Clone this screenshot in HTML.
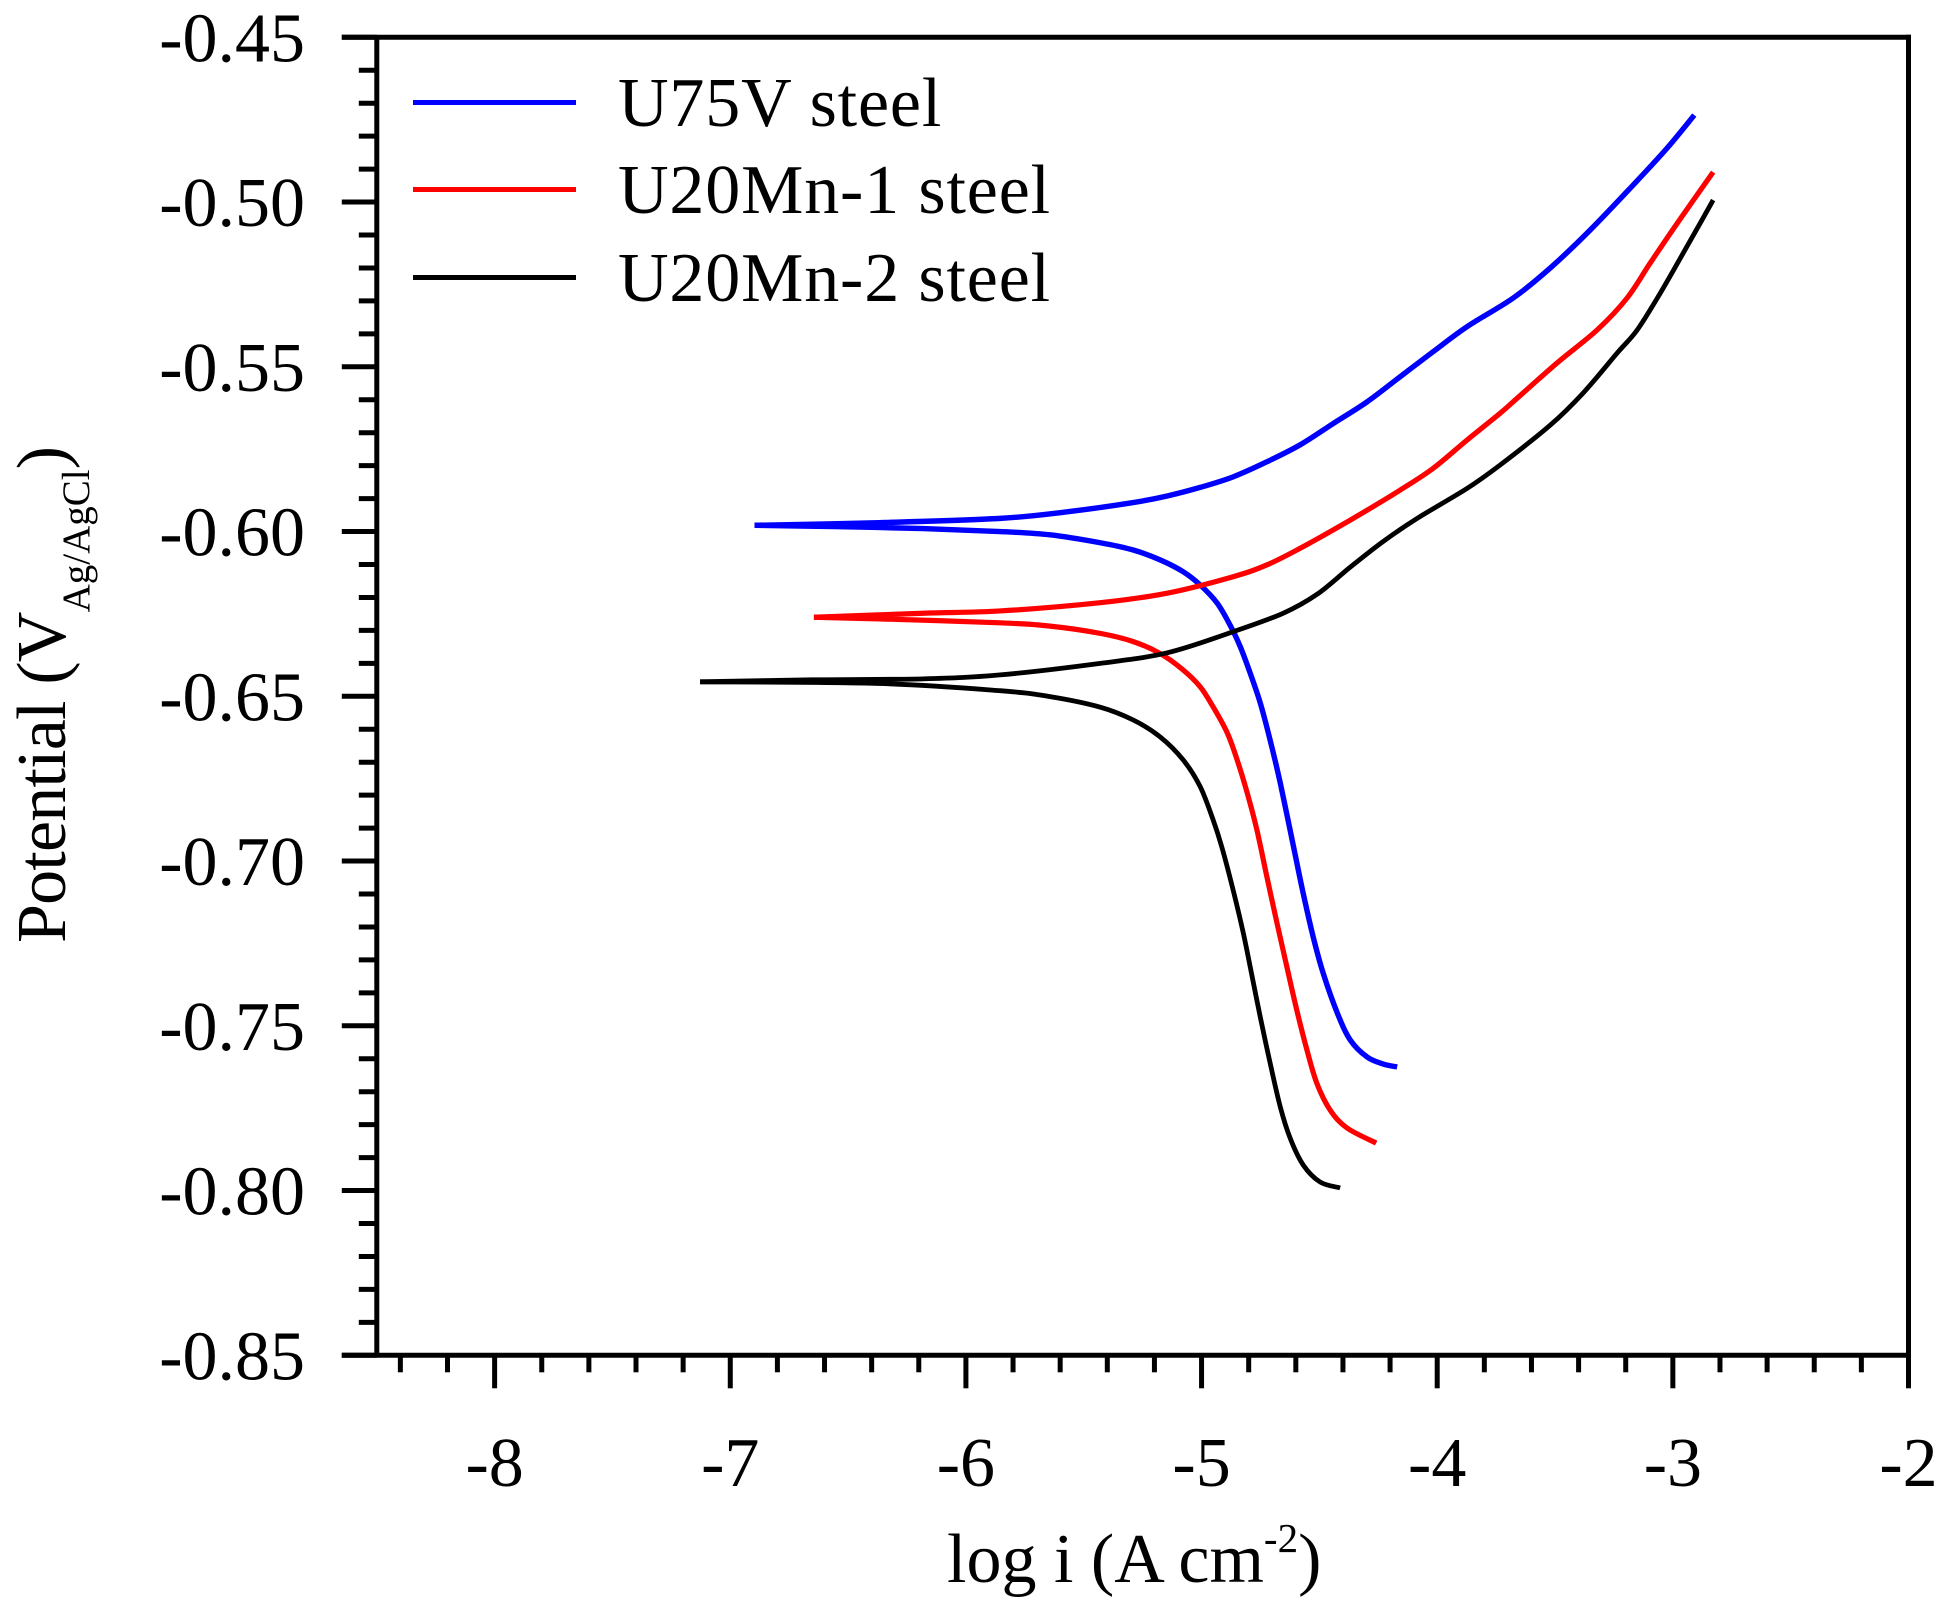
<!DOCTYPE html>
<html>
<head>
<meta charset="utf-8">
<title>Potentiodynamic polarization curves</title>
<style>
html,body{margin:0;padding:0;background:#fff;}
svg{display:block;}
text{font-family:"Liberation Serif",serif;fill:#000;}
</style>
</head>
<body>
<svg id="chart" xmlns="http://www.w3.org/2000/svg" width="1958" height="1608" viewBox="0 0 1958 1608">
<rect x="0" y="0" width="1958" height="1608" fill="#fff"/>
<g id="curves"></g>
<g id="axes"></g>
<g>
<line x1="413" x2="576" y1="102.5" y2="102.5" stroke="#0000ff" stroke-width="5"/>
<text x="618" y="126" font-size="70" letter-spacing="0.85">U75V steel</text>
<line x1="413" x2="576" y1="189.5" y2="189.5" stroke="#ff0000" stroke-width="5"/>
<text x="618" y="213" font-size="70" letter-spacing="0.85">U20Mn-1 steel</text>
<line x1="413" x2="576" y1="277.5" y2="277.5" stroke="#000000" stroke-width="5"/>
<text x="618" y="301" font-size="70" letter-spacing="0.85">U20Mn-2 steel</text>
</g>
<text x="947" y="1582" font-size="70">log i (A cm<tspan font-size="41" dy="-30">-2</tspan><tspan dy="30">)</tspan></text>
<text transform="translate(65,943) rotate(-90)" x="0" y="0" font-size="70" letter-spacing="-0.8">Potential (V<tspan font-size="39" dy="24" letter-spacing="0">Ag/AgCl</tspan><tspan dy="-24">)</tspan></text>
</svg>
<script>
var xTickValues = [-8, -7, -6, -5, -4, -3, -2];
var xTickLabels = ["-8", "-7", "-6", "-5", "-4", "-3", "-2"];
var yTickValues = [-0.45, -0.50, -0.55, -0.60, -0.65, -0.70, -0.75, -0.80, -0.85];
var yTickLabels = ["-0.45", "-0.50", "-0.55", "-0.60", "-0.65", "-0.70", "-0.75", "-0.80", "-0.85"];

var blueAnodicLogI = [-6.897,-6.370,-5.855,-5.570,-5.290,-5.146,-5.006,-4.866,-4.722,-4.582,-4.441,-4.297,-4.157,-4.017,-3.873,-3.677,-3.520,-3.351,-3.168,-3.024,-2.909];
var blueAnodicE = [-0.5981,-0.5973,-0.5960,-0.5940,-0.5912,-0.5892,-0.5866,-0.5834,-0.5788,-0.5737,-0.5672,-0.5606,-0.5530,-0.5454,-0.5378,-0.5291,-0.5200,-0.5085,-0.4948,-0.4836,-0.4736];
var blueCathodicLogI = [-6.897,-6.559,-6.182,-5.855,-5.643,-5.430,-5.290,-5.176,-5.078,-5.006,-4.934,-4.879,-4.836,-4.794,-4.751,-4.709,-4.666,-4.607,-4.569,-4.526,-4.484,-4.424,-4.369,-4.297,-4.229,-4.170];
var blueCathodicE = [-0.5981,-0.5985,-0.5991,-0.6000,-0.6010,-0.6034,-0.6056,-0.6086,-0.6122,-0.6162,-0.6217,-0.6284,-0.6349,-0.6429,-0.6520,-0.6633,-0.6763,-0.6966,-0.7097,-0.7231,-0.7340,-0.7461,-0.7543,-0.7595,-0.7616,-0.7625];

var redAnodicLogI = [-6.645,-6.182,-5.855,-5.430,-5.146,-4.866,-4.722,-4.582,-4.441,-4.297,-4.157,-4.017,-3.873,-3.733,-3.660,-3.491,-3.321,-3.194,-3.096,-2.981,-2.829];
var redAnodicE = [-0.6260,-0.6248,-0.6241,-0.6216,-0.6187,-0.6137,-0.6101,-0.6051,-0.5995,-0.5935,-0.5874,-0.5808,-0.5722,-0.5641,-0.5595,-0.5488,-0.5388,-0.5291,-0.5185,-0.5064,-0.4909];
var redCathodicLogI = [-6.645,-6.370,-5.855,-5.643,-5.430,-5.290,-5.176,-5.078,-5.006,-4.951,-4.891,-4.849,-4.806,-4.765,-4.723,-4.680,-4.638,-4.596,-4.553,-4.511,-4.454,-4.383,-4.259];
var redCathodicE = [-0.6260,-0.6265,-0.6277,-0.6287,-0.6309,-0.6334,-0.6370,-0.6420,-0.6471,-0.6532,-0.6611,-0.6693,-0.6794,-0.6906,-0.7047,-0.7188,-0.7321,-0.7452,-0.7573,-0.7674,-0.7756,-0.7810,-0.7856];

var blackAnodicLogI = [-7.128,-6.654,-6.182,-5.855,-5.430,-5.146,-4.866,-4.654,-4.509,-4.369,-4.229,-4.085,-3.873,-3.733,-3.520,-3.380,-3.236,-3.151,-3.053,-2.956,-2.884,-2.829];
var blackAnodicE = [-0.6456,-0.6450,-0.6447,-0.6435,-0.6400,-0.6368,-0.6304,-0.6248,-0.6190,-0.6108,-0.6030,-0.5960,-0.5869,-0.5798,-0.5677,-0.5579,-0.5458,-0.5388,-0.5276,-0.5155,-0.5064,-0.4994];
var blackCathodicLogI = [-7.128,-6.370,-5.855,-5.643,-5.430,-5.290,-5.176,-5.078,-5.006,-4.951,-4.913,-4.866,-4.823,-4.785,-4.751,-4.709,-4.666,-4.624,-4.569,-4.497,-4.412];
var blackCathodicE = [-0.6456,-0.6461,-0.6483,-0.6501,-0.6533,-0.6572,-0.6623,-0.6693,-0.6774,-0.6875,-0.6960,-0.7088,-0.7218,-0.7352,-0.7473,-0.7613,-0.7746,-0.7841,-0.7922,-0.7974,-0.7992];

var NS = "http://www.w3.org/2000/svg";
var plotLeft = 376.8, plotRight = 1908.5, plotTop = 37.3, plotBottom = 1355.3;
var xMin = -8.5, xMax = -2, yMin = -0.85, yMax = -0.45;
function xScale(v){ return plotLeft + (v - xMin) / (xMax - xMin) * (plotRight - plotLeft); }
function yScale(v){ return plotBottom - (v - yMin) / (yMax - yMin) * (plotBottom - plotTop); }

function smoothPath(xs, ys){
  var p = xs.map(function(x, i){ return [xScale(x), yScale(ys[i])]; });
  var d = "M" + p[0][0].toFixed(2) + " " + p[0][1].toFixed(2);
  for (var i = 0; i < p.length - 1; i++){
    var a = p[Math.max(i - 1, 0)], b = p[i], c = p[i + 1], e = p[Math.min(i + 2, p.length - 1)];
    var c1x = b[0] + (c[0] - a[0]) / 6, c1y = b[1] + (c[1] - a[1]) / 6;
    var c2x = c[0] - (e[0] - b[0]) / 6, c2y = c[1] - (e[1] - b[1]) / 6;
    d += "C" + c1x.toFixed(2) + " " + c1y.toFixed(2) + " " + c2x.toFixed(2) + " " + c2y.toFixed(2) + " " + c[0].toFixed(2) + " " + c[1].toFixed(2);
  }
  return d;
}

var curvesGroup = document.getElementById("curves");
function addCurve(xs, ys, color, width, name){
  var el = document.createElementNS(NS, "path");
  el.setAttribute("d", smoothPath(xs, ys));
  el.setAttribute("fill", "none");
  el.setAttribute("stroke", color);
  el.setAttribute("stroke-width", width);
  el.setAttribute("stroke-linejoin", "round");
  
  
  curvesGroup.appendChild(el);
}
addCurve(blueAnodicLogI, blueAnodicE, "#0000ff", 5.4, "u75v-anodic-curve");
addCurve(blueCathodicLogI, blueCathodicE, "#0000ff", 5.4, "u75v-cathodic-curve");
addCurve(redAnodicLogI, redAnodicE, "#ff0000", 5.2, "u20mn-1-anodic-curve");
addCurve(redCathodicLogI, redCathodicE, "#ff0000", 5.2, "u20mn-1-cathodic-curve");
addCurve(blackAnodicLogI, blackAnodicE, "#000000", 4.8, "u20mn-2-anodic-curve");
addCurve(blackCathodicLogI, blackCathodicE, "#000000", 4.8, "u20mn-2-cathodic-curve");

var axesGroup = document.getElementById("axes");
function addLine(x1, y1, x2, y2, name){
  var el = document.createElementNS(NS, "line");
  el.setAttribute("x1", x1);
  el.setAttribute("y1", y1);
  el.setAttribute("x2", x2);
  el.setAttribute("y2", y2);
  el.setAttribute("stroke", "#000");
  el.setAttribute("stroke-width", 5);
  
  
  axesGroup.appendChild(el);
}
function addLabel(x, y, str, anchor, name){
  var el = document.createElementNS(NS, "text");
  el.setAttribute("x", x);
  el.setAttribute("y", y);
  el.setAttribute("font-size", 70);
  el.setAttribute("text-anchor", anchor);
  el.textContent = str;
  
  
  axesGroup.appendChild(el);
}

var halfStroke = 2.5;
addLine(plotLeft - 35, plotTop, plotRight + halfStroke, plotTop, "top-axis");
addLine(plotLeft, plotTop, plotLeft, plotBottom, "left-axis");
addLine(plotRight, plotTop - halfStroke, plotRight, plotBottom, "right-axis");
addLine(plotLeft - 35, plotBottom, plotRight + halfStroke, plotBottom, "bottom-axis");

var xMinorSteps = 5, yMinorSteps = 5;
xTickValues.forEach(function(v, i){
  var x = xScale(v);
  addLine(x, plotBottom, x, plotBottom + 33, "x-major-tick");
  addLabel(x, 1486, xTickLabels[i], "middle", "x-tick-label");
});
for (var k = -1; k < xTickValues.length - 1; k++){
  var base = k < 0 ? xTickValues[0] - 1 : xTickValues[k];
  for (var m = 1; m < xMinorSteps; m++){
    var mv = base + m / xMinorSteps;
    if (mv > xMin){
      var mx = xScale(mv);
      addLine(mx, plotBottom, mx, plotBottom + 17, "x-minor-tick");
    }
  }
}
yTickValues.forEach(function(v, i){
  var y = yScale(v);
  addLine(plotLeft - 35, y, plotLeft, y, "y-major-tick");
  addLabel(305, y + 24, yTickLabels[i], "end", "y-tick-label");
});
for (var n = 0; n < yTickValues.length - 1; n++){
  for (var q = 1; q < yMinorSteps; q++){
    var yv = yTickValues[n] - q * 0.01;
    var my = yScale(yv);
    addLine(plotLeft - 18, my, plotLeft, my, "y-minor-tick");
  }
}
</script>
</body>
</html>
